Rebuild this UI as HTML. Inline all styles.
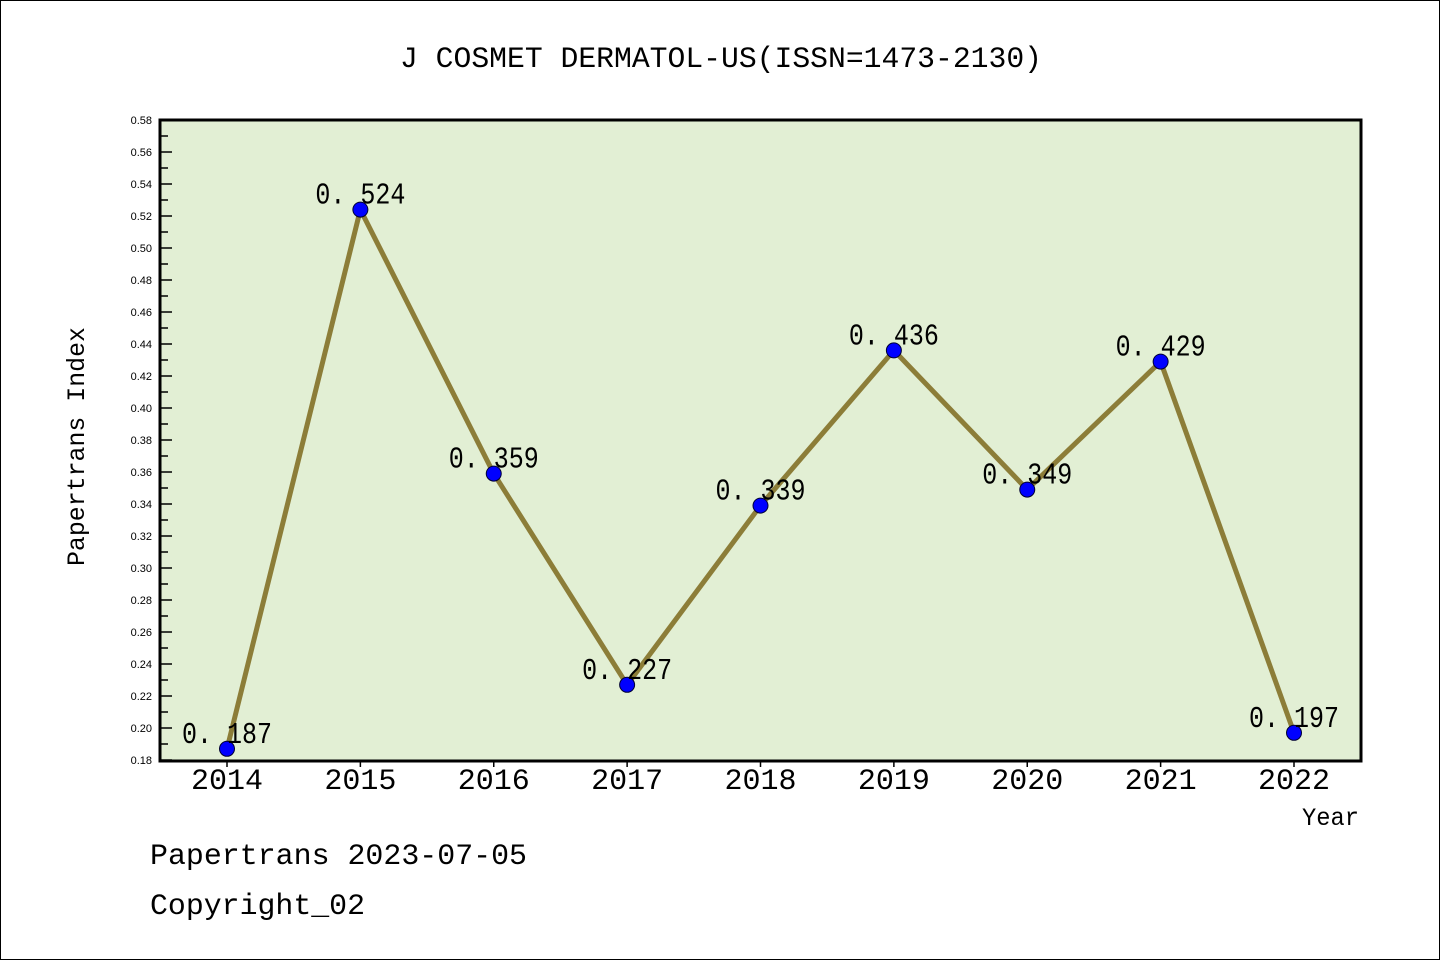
<!DOCTYPE html>
<html><head><meta charset="utf-8"><style>
body{margin:0;background:#fff;}
svg{display:block;font-family:"Liberation Mono","WenQuanYi Zen Hei",monospace;}
</style></head><body>
<svg id="chart" width="1440" height="960">
<rect x="0.5" y="0.5" width="1439" height="959" fill="#fff" stroke="#000"/>
<text x="400" y="67" font-size="30" textLength="642" lengthAdjust="spacingAndGlyphs">J COSMET DERMATOL-US(ISSN=1473-2130)</text>
<rect x="160" y="120" width="1201" height="641" fill="#e2efd4"/>
<g id="yaxis"></g>
<g id="xaxis"></g>
<g id="series"></g>
<rect x="160" y="120" width="1201" height="641" fill="none" stroke="#000" stroke-width="3"/>
<text x="84" y="566" transform="rotate(-90 84 566)" font-size="25" textLength="239" lengthAdjust="spacingAndGlyphs">Papertrans Index</text>
<text x="1302" y="825" font-size="25" textLength="57" lengthAdjust="spacingAndGlyphs">Year</text>
<text x="150" y="864" font-size="30" textLength="377" lengthAdjust="spacingAndGlyphs">Papertrans 2023-07-05</text>
<text x="150" y="914" font-size="30" textLength="215" lengthAdjust="spacingAndGlyphs">Copyright_02</text>
</svg>
<script>
const years=["2014","2015","2016","2017","2018","2019","2020","2021","2022"];
const values=[0.187,0.524,0.359,0.227,0.339,0.436,0.349,0.429,0.197];
const yTicks=["0.18","0.20","0.22","0.24","0.26","0.28","0.30","0.32","0.34","0.36","0.38","0.40","0.42","0.44","0.46","0.48","0.50","0.52","0.54","0.56","0.58"];
const yMin=0.18,yMax=0.58;
const NS="http://www.w3.org/2000/svg";
function Y(v){return 760-(v-yMin)/(yMax-yMin)*640;}
function X(i){return 227+i*(1294-227)/(years.length-1);}
function mk(t,a,p){const e=document.createElementNS(NS,t);for(const k in a)e.setAttribute(k,a[k]);p.appendChild(e);return e;}
const ya=document.getElementById('yaxis'),xa=document.getElementById('xaxis'),se=document.getElementById('series');
yTicks.forEach((t,i)=>{
 const v=parseFloat(t),y=Y(v);
 const l=mk('line',{x1:160,x2:172,y1:y,y2:y,stroke:'#000','stroke-width':1.5},ya);
 
 
 const tx=mk('text',{x:152,y:y+4,'text-anchor':'end','font-size':11,'font-family':'Liberation Sans, sans-serif'},ya);
 tx.textContent=t;
 
 
 if(i<yTicks.length-1){
  const ym=Y(v+0.01);
  const m=mk('line',{x1:160,x2:168,y1:ym,y2:ym,stroke:'#000','stroke-width':1.5},ya);
  
  
 }
});
years.forEach((yr,i)=>{
 const x=X(i);
 const l=mk('line',{x1:x,x2:x,y1:761,y2:767,stroke:'#000','stroke-width':1.5},xa);
 
 
 const t=mk('text',{x:x-36,y:789,'font-size':30,textLength:72,lengthAdjust:'spacingAndGlyphs'},xa);
 t.textContent=yr;
 
 
});
const pl=mk('polyline',{points:values.map((v,i)=>X(i)+','+Y(v)).join(' '),fill:'none',stroke:'#8c7d38','stroke-width':5,'stroke-linejoin':'round'},se);


values.forEach((v,i)=>{
 const c=mk('circle',{cx:X(i),cy:Y(v),r:7.5,fill:'#0000ff',stroke:'#000033','stroke-width':1},se);
 
 
 const t=mk('text',{x:X(i)-45,y:Y(v)-6,'font-size':31,textLength:90,lengthAdjust:'spacingAndGlyphs'},se);
 t.textContent=v.toFixed(3).replace('.','. ');
 
 
});
</script>
</body></html>
